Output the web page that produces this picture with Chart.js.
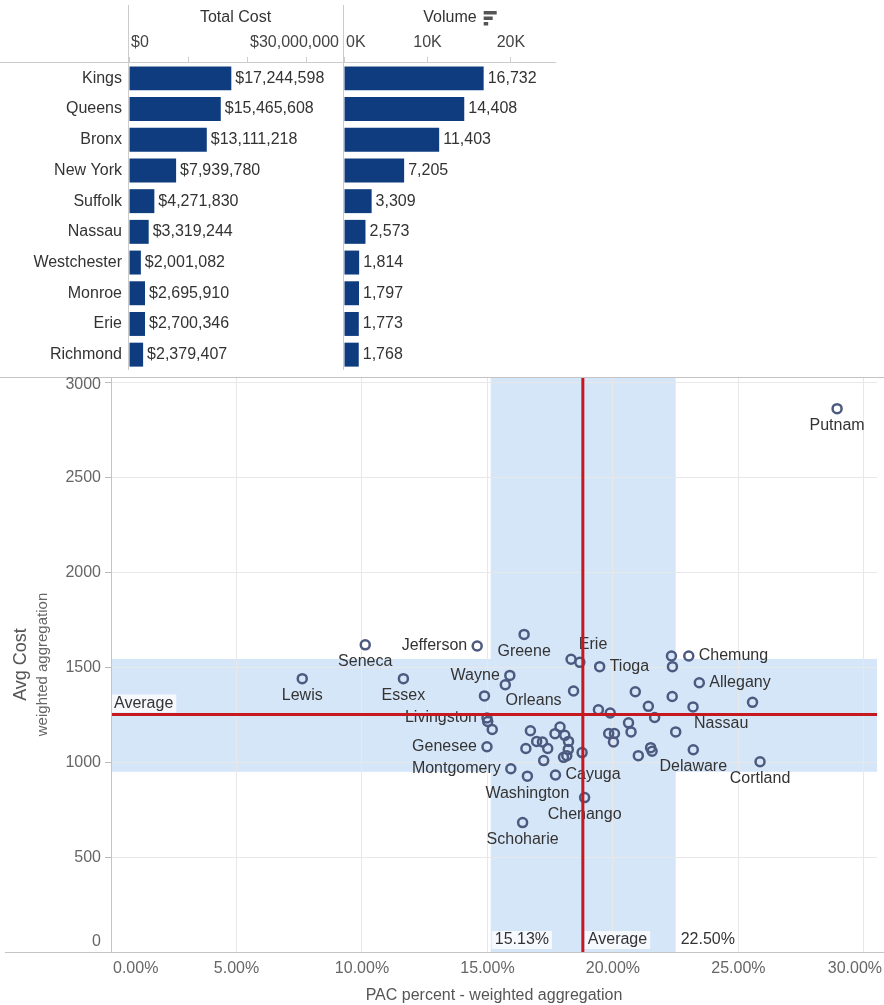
<!DOCTYPE html>
<html>
<head>
<meta charset="utf-8">
<title>PAC por condado</title>
<script src="https://cdn.jsdelivr.net/npm/chart.js@4.4.1/dist/chart.umd.min.js"></script>
<style>
  body { margin: 0; background: #fff; width: 884px; height: 1005px; position: relative; overflow: hidden; }
  canvas { position: absolute; }
</style>
</head>
<body>
<canvas id="chartCost" width="342" height="370" style="left:0;top:0"></canvas>
<canvas id="chartVolume" width="216" height="370" style="left:342px;top:0"></canvas>
<canvas id="chartPac" width="884" height="635" style="left:0;top:370px"></canvas>
<script>
// top 10 counties by volume
const counties = ['Kings', 'Queens', 'Bronx', 'New York', 'Suffolk', 'Nassau', 'Westchester', 'Monroe', 'Erie', 'Richmond'];
const totalCost = [17244598, 15465608, 13111218, 7939780, 4271830, 3319244, 2001082, 2695910, 2700346, 2379407];
const volume = [16732, 14408, 11403, 7205, 3309, 2573, 1814, 1797, 1773, 1768];

// axis ticks
const costTicks = [0, 10000000, 20000000, 30000000];
const costTickLabels = ['$0', '', '', '$30,000,000'];
const volumeTicks = [0, 10000, 20000];
const volumeTickLabels = ['0K', '10K', '20K'];
const pacTicks = [0, 5, 10, 15, 20, 25, 30];
const avgCostTicks = [0, 500, 1000, 1500, 2000, 2500, 3000];

// scatter: PAC percent vs avg cost (only some points carry a name label)
const pacNames = ['Putnam', 'Seneca', 'Lewis', 'Jefferson', 'Essex', 'Greene', 'Wayne', 'Orleans', 'Erie', 'Tioga',
  'Chemung', 'Allegany', 'Nassau', 'Livingston', 'Genesee', 'Montgomery', 'Cayuga', 'Washington', 'Chenango', 'Schoharie',
  'Delaware', 'Cortland'];
const pacPercent = [28.93, 10.13, 7.62, 14.59, 11.65, 16.46, 15.89, 18.43, 18.68, 19.47,
  23.02, 23.44, 23.19, 14.98, 14.98, 15.93, 17.71, 16.59, 18.87, 16.40,
  23.20, 25.86,
  18.33, 22.33, 22.37, 15.71, 14.88, 20.89, 22.36, 25.56, 21.41, 19.42,
  19.89, 21.66, 15.01, 15.19, 20.62, 20.72, 19.83, 20.06, 20.02, 22.50,
  16.71, 17.89, 17.69, 18.08, 18.23, 16.96, 17.19, 16.53, 17.40, 18.22,
  18.77, 18.03, 18.16, 17.24, 21.50, 21.56, 21.01];
const avgCost = [2864, 1619, 1441, 1613, 1441, 1674, 1458, 1376, 1527, 1504,
  1560, 1419, 1292, 1234, 1082, 966, 933, 927, 814, 682,
  1066, 1003,
  1543, 1560, 1504, 1409, 1350, 1372, 1347, 1316, 1295, 1277,
  1260, 1236, 1215, 1173, 1208, 1160, 1152, 1152, 1107, 1160,
  1166, 1186, 1151, 1142, 1110, 1110, 1107, 1073, 1073, 1068,
  1051, 1026, 1035, 1009, 1077, 1058, 1035];

// reference lines / bands
const pacAverage = 18.8;
const pacBand = [15.13, 22.50];
const costAverage = 1252;
const costBand = [950, 1545];

// estilos
const fontFamily = "'Liberation Sans', Arial, sans-serif";
const barColor = '#0e3c7f';
const lineColor = '#cccccc';
const pointColor = '#4d5a80';
const bandColor = '#d6e6f9';
const refColor = '#c5191f';

const labelSpots = {
  Putnam: 'below', Seneca: 'below', Lewis: 'below', Jefferson: 'left', Essex: 'below', Greene: 'below',
  Wayne: 'left', Orleans: 'leftLow', Erie: 'aboveRight', Tioga: 'right', Chemung: 'right', Allegany: 'right',
  Nassau: 'belowRight', Livingston: 'left', Genesee: 'left', Montgomery: 'left', Cayuga: 'right',
  Washington: 'below', Chenango: 'below', Schoharie: 'below', Delaware: 'below', Cortland: 'below'
};
const spotOffsets = {
  below: [0, 17, 'center'], left: [-10, 0, 'right'], right: [10, 0, 'left'],
  leftLow: [-12, 10, 'right'], aboveRight: [-1, -18, 'left'], belowRight: [1, 17, 'left']
};

function font(size) {
  return size + 'px ' + fontFamily;
}

function setTicks(values) {
  return scale => { scale.ticks = values.map(v => ({ value: v })); };
}

// header of the bar panes: title, tick labels kept inside the pane, frame lines
function headerPlugin(title, sortIcon) {
  return {
    id: 'header',
    afterDraw(chart) {
      const ctx = chart.ctx;
      const area = chart.chartArea;
      const scale = chart.scales.x;
      ctx.save();
      ctx.strokeStyle = lineColor;
      ctx.lineWidth = 1;
      ctx.beginPath();
      ctx.moveTo(0, Math.round(area.top) - 0.5);
      ctx.lineTo(area.right, Math.round(area.top) - 0.5);
      ctx.moveTo(Math.round(area.left) - 0.5, 5);
      ctx.lineTo(Math.round(area.left) - 0.5, chart.height);
      ctx.stroke();

      ctx.font = font(16);
      ctx.textBaseline = 'middle';
      ctx.textAlign = 'center';
      ctx.fillStyle = '#333';
      const cx = (area.left + area.right) / 2;
      ctx.fillText(title, cx, 18);
      if (sortIcon) {
        const ix = cx + ctx.measureText(title).width / 2 + 7;
        ctx.fillStyle = '#555';
        ctx.fillRect(ix, 11, 13, 3.5);
        ctx.fillRect(ix, 16.5, 9, 3.5);
        ctx.fillRect(ix, 22, 4.5, 3.5);
      }

      ctx.textAlign = 'left';
      ctx.fillStyle = '#444';
      scale.ticks.forEach(t => {
        if (!t.label) return;
        const w = ctx.measureText(t.label).width;
        let x = scale.getPixelForValue(t.value) - w / 2;
        x = Math.max(area.left + 2, Math.min(x, area.right - w - 3));
        ctx.fillText(t.label, x, 43);
      });
      ctx.restore();
    }
  };
}

function barValuePlugin(format) {
  return {
    id: 'barValues',
    afterDatasetsDraw(chart) {
      const ctx = chart.ctx;
      const meta = chart.getDatasetMeta(0);
      const data = chart.data.datasets[0].data;
      ctx.save();
      ctx.font = font(16);
      ctx.fillStyle = '#333';
      ctx.textBaseline = 'middle';
      ctx.textAlign = 'left';
      meta.data.forEach((bar, i) => {
        ctx.fillText(format(data[i]), bar.x + 4, bar.y);
      });
      ctx.restore();
    }
  };
}

function barOptions(max, ticks, tickLabels, yAxis) {
  return {
    indexAxis: 'y',
    responsive: false,
    animation: false,
    layout: { padding: yAxis ? 0 : { left: 2, right: 2 } },
    plugins: { legend: { display: false }, tooltip: { enabled: false } },
    scales: {
      x: {
        position: 'top',
        min: 0,
        max: max,
        afterBuildTicks: setTicks(ticks),
        ticks: { display: false, callback: (v, i) => tickLabels[i] },
        grid: { drawOnChartArea: false, drawTicks: true, tickLength: 6, color: lineColor },
        border: { display: false },
        afterFit: s => { s.height = 63; s.paddingLeft = 0; s.paddingRight = 0; }
      },
      y: {
        display: yAxis,
        ticks: { color: '#333', font: { family: fontFamily, size: 16 }, padding: 7 },
        grid: { display: false, drawTicks: false },
        border: { display: false },
        afterFit: s => {
          s.width = yAxis ? 129 : 0;
          s.paddingTop = 0;
          s.paddingBottom = 0;
        }
      }
    }
  };
}

new Chart(document.getElementById('chartCost').getContext('2d'), {
  type: 'bar',
  data: {
    labels: counties,
    datasets: [{ data: totalCost, backgroundColor: barColor, barPercentage: 0.78, categoryPercentage: 1 }]
  },
  options: barOptions(35900000, costTicks, costTickLabels, true),
  plugins: [headerPlugin('Total Cost', false), barValuePlugin(v => '$' + v.toLocaleString('en-US'))]
});

new Chart(document.getElementById('chartVolume').getContext('2d'), {
  type: 'bar',
  data: {
    labels: counties,
    datasets: [{ data: volume, backgroundColor: barColor, barPercentage: 0.78, categoryPercentage: 1 }]
  },
  options: barOptions(25400, volumeTicks, volumeTickLabels, false),
  plugins: [headerPlugin('Volume', true), barValuePlugin(v => v.toLocaleString('en-US'))]
});

function tag(ctx, text, x, y) {
  const w = ctx.measureText(text).width;
  ctx.fillStyle = 'rgba(255,255,255,0.75)';
  ctx.fillRect(x - 3, y - 9, w + 6, 18);
  ctx.fillStyle = '#333';
  ctx.fillText(text, x, y);
}

const pacOverlay = {
  id: 'pacOverlay',
  beforeDraw(chart) {
    const ctx = chart.ctx;
    const area = chart.chartArea;
    const xs = chart.scales.x;
    const ys = chart.scales.y;
    ctx.save();
    ctx.beginPath();
    ctx.rect(area.left, area.top, area.width, area.height);
    ctx.clip();
    ctx.fillStyle = bandColor;
    const x1 = xs.getPixelForValue(pacBand[0]);
    const x2 = xs.getPixelForValue(pacBand[1]);
    ctx.fillRect(x1, area.top, x2 - x1, area.height);
    const y1 = ys.getPixelForValue(costBand[1]);
    const y2 = ys.getPixelForValue(costBand[0]);
    ctx.fillRect(area.left, y1, area.width, y2 - y1);
    ctx.restore();
  },
  afterDatasetsDraw(chart) {
    const ctx = chart.ctx;
    const area = chart.chartArea;
    const xs = chart.scales.x;
    const ys = chart.scales.y;
    const meta = chart.getDatasetMeta(0);
    ctx.save();
    ctx.font = font(16);
    ctx.textBaseline = 'middle';
    ctx.fillStyle = '#333';
    meta.data.forEach((pt, i) => {
      const name = pacNames[i];
      if (!name) return;
      const off = spotOffsets[labelSpots[name]];
      ctx.textAlign = off[2];
      ctx.fillText(name, pt.x + off[0], pt.y + off[1]);
    });

    // linhas de média
    ctx.strokeStyle = refColor;
    ctx.lineWidth = 3;
    const xa = xs.getPixelForValue(pacAverage);
    const ya = ys.getPixelForValue(costAverage);
    ctx.beginPath();
    ctx.moveTo(xa, area.top);
    ctx.lineTo(xa, area.bottom);
    ctx.moveTo(area.left, ya);
    ctx.lineTo(area.right, ya);
    ctx.stroke();

    ctx.textAlign = 'left';
    tag(ctx, 'Average', area.left + 3, ya - 11);
    const yb = area.bottom - 12;
    tag(ctx, pacBand[0].toFixed(2) + '%', xs.getPixelForValue(pacBand[0]) + 4, yb);
    tag(ctx, 'Average', xa + 5, yb);
    tag(ctx, pacBand[1].toFixed(2) + '%', xs.getPixelForValue(pacBand[1]) + 5, yb);
    ctx.restore();
  },
  afterDraw(chart) {
    const ctx = chart.ctx;
    const area = chart.chartArea;
    const xs = chart.scales.x;
    const ys = chart.scales.y;
    ctx.save();
    ctx.strokeStyle = '#c4c4c4';
    ctx.lineWidth = 1;
    ctx.beginPath();
    ctx.moveTo(0, Math.round(area.top) + 0.5);
    ctx.lineTo(chart.width, Math.round(area.top) + 0.5);
    ctx.moveTo(5, Math.round(area.bottom) + 0.5);
    ctx.lineTo(chart.width, Math.round(area.bottom) + 0.5);
    ctx.moveTo(Math.round(area.left) + 0.5, area.top);
    ctx.lineTo(Math.round(area.left) + 0.5, area.bottom);
    ctx.stroke();

    ctx.font = font(16);
    ctx.fillStyle = '#666';
    ctx.textBaseline = 'middle';
    ctx.textAlign = 'left';
    xs.ticks.forEach(t => {
      const w = ctx.measureText(t.label).width;
      let x = xs.getPixelForValue(t.value) - w / 2;
      x = Math.max(area.left + 2, Math.min(x, chart.width - w - 2));
      ctx.fillText(t.label, x, area.bottom + 17);
    });
    ctx.textAlign = 'right';
    ys.ticks.forEach(t => {
      let y = ys.getPixelForValue(t.value);
      y = Math.max(area.top + 8, Math.min(y, area.bottom - 10));
      ctx.fillText(t.label, area.left - 10, y);
    });

    const midY = (area.top + area.bottom) / 2;
    ctx.textAlign = 'center';
    ctx.save();
    ctx.translate(21, midY);
    ctx.rotate(-Math.PI / 2);
    ctx.font = font(18);
    ctx.fillStyle = '#555';
    ctx.fillText('Avg Cost', 0, 0);
    ctx.restore();
    ctx.save();
    ctx.translate(43, midY);
    ctx.rotate(-Math.PI / 2);
    ctx.font = font(15);
    ctx.fillStyle = '#666';
    ctx.fillText('weighted aggregation', 0, 0);
    ctx.restore();
    ctx.restore();
  }
};

new Chart(document.getElementById('chartPac').getContext('2d'), {
  type: 'scatter',
  data: {
    datasets: [{
      data: pacPercent.map((x, i) => ({ x: x, y: avgCost[i] })),
      pointStyle: 'circle',
      pointRadius: 4.5,
      borderWidth: 2.5,
      borderColor: pointColor,
      backgroundColor: 'rgba(0,0,0,0)'
    }]
  },
  options: {
    responsive: false,
    animation: false,
    layout: { padding: { top: 3, right: 2 } },
    plugins: { legend: { display: false }, tooltip: { enabled: false } },
    scales: {
      x: {
        type: 'linear',
        min: 0,
        max: 30.52,
        afterBuildTicks: setTicks(pacTicks),
        ticks: { display: false, callback: v => v.toFixed(2) + '%' },
        grid: { color: '#e8e8e8', drawTicks: false },
        border: { display: false },
        title: {
          display: true,
          text: 'PAC percent - weighted aggregation',
          color: '#555',
          font: { family: fontFamily, size: 16 },
          padding: { top: 0, bottom: 0 }
        },
        afterFit: s => { s.height = 53; }
      },
      y: {
        min: 0,
        max: 3031,
        afterBuildTicks: setTicks(avgCostTicks),
        ticks: { display: false, callback: v => String(v) },
        grid: { color: '#e8e8e8', drawTicks: true, tickLength: 6, tickColor: '#bbbbbb' },
        border: { display: false },
        afterFit: s => { s.width = 111; }
      }
    }
  },
  plugins: [pacOverlay]
});
</script>
</body>
</html>
